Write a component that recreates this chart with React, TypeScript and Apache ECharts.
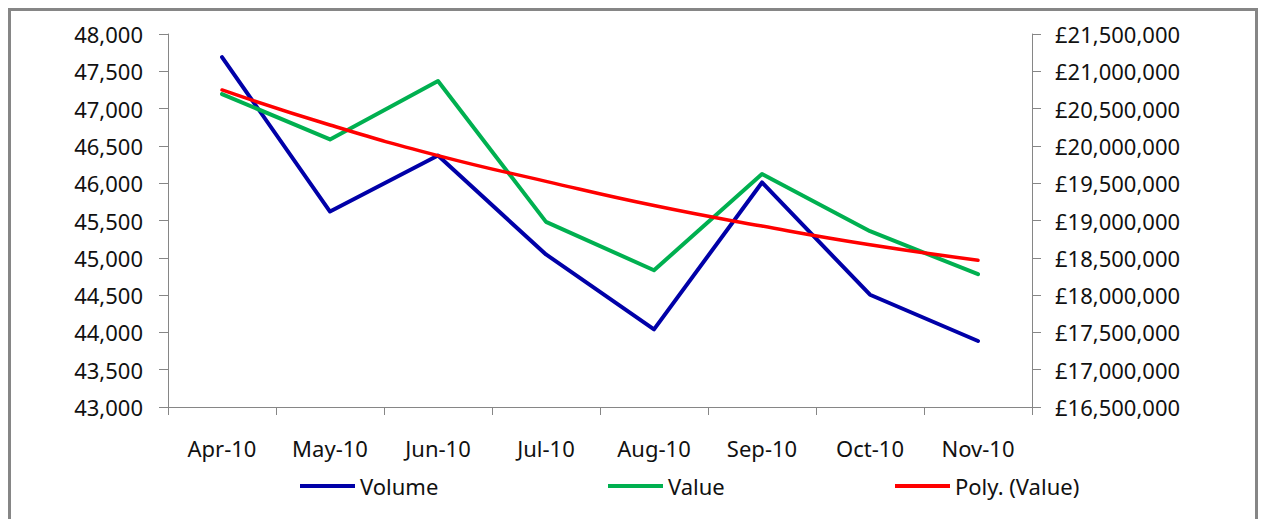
import React, { useEffect, useRef } from "react";
import * as echarts from "echarts";

const categories = ["Apr-10", "May-10", "Jun-10", "Jul-10", "Aug-10", "Sep-10", "Oct-10", "Nov-10"];
const volume = [47690, 45620, 46370, 45045, 44040, 46010, 44505, 43885];
const value = [20695000, 20087000, 20869000, 18982000, 18333000, 19622000, 18857000, 18280000];
const polyValue = [20750000, 20280000, 19870000, 19525000, 19200000, 18925000, 18675000, 18468000];

const FONT = "Noto Sans";
const AXIS_COLOR = "#868686";
const TEXT_COLOR = "#111111";

function withCommas(n: number): string {
  return String(Math.round(n)).replace(/\B(?=(\d{3})+(?!\d))/g, ",");
}

export default function App() {
  const ref = useRef<HTMLDivElement>(null);

  useEffect(() => {
    if (!ref.current) return;
    const chart = echarts.init(ref.current, null, { renderer: "svg" });
    const legendBase = {
      top: 475,
      padding: 0,
      itemWidth: 55,
      itemHeight: 4,
      icon: "rect",
      textStyle: { fontFamily: FONT, fontSize: 22, color: TEXT_COLOR },
      selectedMode: false,
    };
    chart.setOption({
      animation: false,
      backgroundColor: "#ffffff",
      textStyle: { fontFamily: FONT },
      graphic: [
        {
          type: "rect",
          shape: { x: 9.5, y: 9.5, width: 1247, height: 540 },
          style: { fill: "none", stroke: AXIS_COLOR, lineWidth: 3 },
          silent: true,
        },
      ],
      grid: { left: 168, right: 232, top: 34, bottom: 112 },
      legend: [
        { ...legendBase, left: 300, data: ["Volume"] },
        { ...legendBase, left: 608, data: ["Value"] },
        { ...legendBase, left: 895, data: ["Poly. (Value)"] },
      ],
      xAxis: {
        type: "category",
        data: categories,
        boundaryGap: true,
        axisLine: { lineStyle: { color: AXIS_COLOR, width: 1 } },
        axisTick: { show: true, length: 8, lineStyle: { color: AXIS_COLOR } },
        axisLabel: { fontFamily: FONT, fontSize: 22, color: TEXT_COLOR, margin: 30, interval: 0 },
        splitLine: { show: false },
      },
      yAxis: [
        {
          type: "value",
          min: 43000,
          max: 48000,
          interval: 500,
          position: "left",
          axisLine: { show: true, lineStyle: { color: AXIS_COLOR, width: 1 } },
          axisTick: { show: true, length: 9, lineStyle: { color: AXIS_COLOR } },
          axisLabel: {
            fontFamily: FONT,
            fontSize: 22,
            color: TEXT_COLOR,
            margin: 25,
            formatter: (v: number) => withCommas(v),
          },
          splitLine: { show: false },
        },
        {
          type: "value",
          min: 16500000,
          max: 21500000,
          interval: 500000,
          position: "right",
          axisLine: { show: true, lineStyle: { color: AXIS_COLOR, width: 1 } },
          axisTick: { show: true, length: 9, lineStyle: { color: AXIS_COLOR } },
          axisLabel: {
            fontFamily: FONT,
            fontSize: 22,
            color: TEXT_COLOR,
            margin: 23,
            formatter: (v: number) => "£" + withCommas(v),
          },
          splitLine: { show: false },
        },
      ],
      series: [
        {
          name: "Volume",
          type: "line",
          yAxisIndex: 0,
          data: volume,
          symbol: "none",
          color: "#0000A8",
          lineStyle: { width: 4, color: "#0000A8", cap: "round", join: "round" },
        },
        {
          name: "Value",
          type: "line",
          yAxisIndex: 1,
          data: value,
          symbol: "none",
          color: "#00B050",
          lineStyle: { width: 4, color: "#00B050", cap: "round", join: "round" },
        },
        {
          name: "Poly. (Value)",
          type: "line",
          yAxisIndex: 1,
          data: polyValue,
          symbol: "none",
          smooth: true,
          color: "#FF0000",
          lineStyle: { width: 3.5, color: "#FF0000", cap: "round", join: "round" },
        },
      ],
    });
    return () => chart.dispose();
  }, []);

  return (
    <div
      ref={ref}
      style={{ position: "absolute", left: 0, top: 0, width: 1264, height: 519 }}
    />
  );
}
